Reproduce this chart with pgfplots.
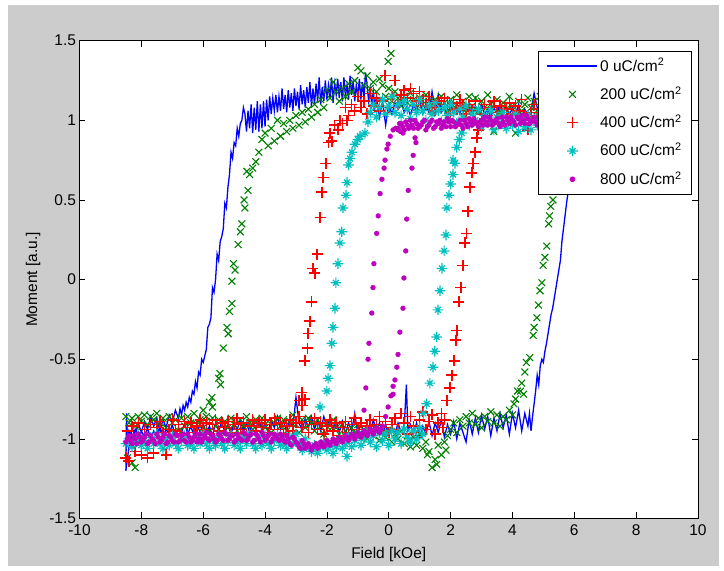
\documentclass[border=0pt]{standalone}
\usepackage{pgfplots}
\pgfplotsset{compat=1.18}
\usepackage{fontspec}
\setmainfont{Liberation Sans}

\definecolor{mblue}{rgb}{0,0,1}
\definecolor{mgreen}{rgb}{0,0.5,0}
\definecolor{mred}{rgb}{1,0,0}
\definecolor{mcyan}{rgb}{0,0.75,0.75}
\definecolor{mmag}{rgb}{0.75,0,0.75}
\definecolor{figgray}{rgb}{0.8,0.8,0.8}

% matlab like marks
\pgfdeclareplotmark{gx}{%
  \pgfpathmoveto{\pgfqpoint{-\pgfplotmarksize}{-\pgfplotmarksize}}%
  \pgfpathlineto{\pgfqpoint{\pgfplotmarksize}{\pgfplotmarksize}}%
  \pgfpathmoveto{\pgfqpoint{-\pgfplotmarksize}{\pgfplotmarksize}}%
  \pgfpathlineto{\pgfqpoint{\pgfplotmarksize}{-\pgfplotmarksize}}%
  \pgfusepathqstroke}
\pgfdeclareplotmark{cstar}{%
  \pgfpathmoveto{\pgfqpoint{-\pgfplotmarksize}{0pt}}%
  \pgfpathlineto{\pgfqpoint{\pgfplotmarksize}{0pt}}%
  \pgfpathmoveto{\pgfqpoint{0pt}{-\pgfplotmarksize}}%
  \pgfpathlineto{\pgfqpoint{0pt}{\pgfplotmarksize}}%
  \pgfpathmoveto{\pgfqpoint{-.55\pgfplotmarksize}{-.55\pgfplotmarksize}}%
  \pgfpathlineto{\pgfqpoint{.55\pgfplotmarksize}{.55\pgfplotmarksize}}%
  \pgfpathmoveto{\pgfqpoint{-.55\pgfplotmarksize}{.55\pgfplotmarksize}}%
  \pgfpathlineto{\pgfqpoint{.55\pgfplotmarksize}{-.55\pgfplotmarksize}}%
  \pgfusepathqstroke}

\begin{document}
\begin{tikzpicture}[font=\fontsize{15.5}{18}\selectfont]
\useasboundingbox[fill=white] (-79.5pt,-52.5pt) rectangle (644.5pt,518.5pt);
\fill[figgray] (-71.5pt,-47.5pt) rectangle (639.5pt,513.5pt);
\begin{axis}[
    at={(0pt,0pt)}, anchor=south west,
    scale only axis,
    width=618.5pt, height=477.8pt,
    xmin=-10, xmax=10,
    ymin=-1.5, ymax=1.5,
    xtick={-10,-8,-6,-4,-2,0,2,4,6,8,10},
    xticklabels={-10,-8,-6,-4,-2,0,2,4,6,8,10},
    ytick={-1.5,-1,-0.5,0,0.5,1,1.5},
    yticklabels={-1.5,-1,-0.5,0,0.5,1,1.5},
    xticklabel style={yshift=-3pt},
    tick align=inside,
    major tick length=6pt,
    axis line style={black, line width=0.8pt},
    tick style={black, line width=0.7pt},
    axis background/.style={fill=white},
    xlabel={Field [kOe]},
    ylabel={Moment [a.u.]},
    every axis x label/.style={at={(axis description cs:0.5,-0.076)}, anchor=center},
    every axis y label/.style={at={(axis description cs:-0.075,0.5)}, rotate=90, anchor=center},
    legend image code/.code={\draw[mark repeat=2,mark phase=2,#1] plot coordinates {(0pt,0pt) (25pt,0pt) (50pt,0pt)};},
    legend cell align=left,
    legend style={at={(axis description cs:1,1)}, anchor=north east,
        xshift=-6pt, yshift=-10pt, draw=black, line width=0.8pt, fill=white,
        inner xsep=8pt, inner ysep=5pt, row sep=8.3pt,
        nodes={inner sep=2pt, text height=13pt, text depth=3pt}},
]

% 0 uC/cm2 : descending branch then ascending branch
\addplot[mblue, line width=1.3pt] coordinates {
(8.5,1.04)(8.4,1.07)(8.3,1.02)(8.2,1.06)(8.1,1.03)(8.0,1.08)(7.9,1.02)(7.8,1.05)(7.7,1.01)(7.6,1.07)
(7.5,1.03)(7.4,1.06)(7.3,1.02)(7.2,1.08)(7.1,1.04)(7.0,1.06)(6.9,1.01)(6.8,1.07)(6.7,1.03)(6.6,1.05)
(6.5,1.02)(6.4,1.08)(6.3,1.03)(6.2,1.06)(6.1,1.02)(6.0,1.07)(5.9,1.04)(5.8,1.09)(5.7,1.03)(5.6,1.06)
(5.5,1.02)(5.4,1.08)(5.3,1.04)(5.2,1.07)(5.1,1.03)(5.0,1.09)(4.9,1.04)(4.8,1.08)(4.7,1.17)(4.6,1.05)
(4.5,1.03)(4.4,1.07)(4.3,1.02)(4.2,1.1)(4.1,1.04)(4.0,1.08)(3.9,1.03)(3.8,1.09)(3.7,1.05)(3.6,1.11)
(3.5,1.04)(3.4,1.08)(3.3,1.02)(3.2,1.07)(3.1,1.04)(3.0,1.1)(2.9,1.05)(2.8,1.09)(2.7,1.03)(2.6,1.08)
(2.5,1.05)(2.4,1.12)(2.3,1.04)(2.2,1.09)(2.1,1.05)(2.0,1.1)(1.9,1.03)(1.8,1.08)(1.7,1.05)(1.6,1.16)
(1.5,1.06)(1.4,1.18)(1.3,1.05)(1.2,1.1)(1.1,1.04)(1.0,1.12)(0.9,1.06)(0.8,1.1)(0.7,1.03)(0.6,1.09)
(0.5,1.05)(0.4,1.13)(0.3,1.07)(0.2,1.11)(0.1,1.04)(0.0,1.1)(-0.1,0.97)(-0.2,1.12)(-0.3,1.02)(-0.4,1.15)
(-0.45,1.08)(-0.5,1.18)(-0.55,1.1)(-0.6,1.2)(-0.65,1.12)(-0.7,1.22)(-0.75,1.3)(-0.8,1.14)(-0.85,1.24)(-0.9,1.13)
(-0.95,1.26)(-1.0,1.15)(-1.05,1.22)(-1.1,1.12)(-1.15,1.25)(-1.2,1.16)(-1.25,1.28)(-1.3,1.13)(-1.35,1.22)(-1.4,1.15)
(-1.45,1.27)(-1.5,1.12)(-1.55,1.24)(-1.6,1.14)(-1.65,1.26)(-1.7,1.16)(-1.75,1.23)(-1.8,1.11)(-1.85,1.27)(-1.9,1.14)
(-1.95,1.22)(-2.0,1.13)(-2.05,1.25)(-2.1,1.12)(-2.15,1.21)(-2.2,1.1)(-2.25,1.27)(-2.3,1.12)(-2.35,1.23)(-2.4,1.1)
(-2.45,1.2)(-2.5,1.09)(-2.55,1.24)(-2.6,1.11)(-2.65,1.21)(-2.7,1.08)(-2.75,1.19)(-2.8,1.1)(-2.85,1.22)(-2.9,1.07)
(-2.95,1.18)(-3.0,1.09)(-3.05,1.2)(-3.1,1.06)(-3.15,1.17)(-3.2,1.08)(-3.25,1.19)(-3.3,1.05)(-3.35,1.16)(-3.4,1.07)
(-3.45,1.2)(-3.5,1.06)(-3.55,1.15)(-3.6,1.05)(-3.65,1.16)(-3.7,1.06)(-3.75,1.14)(-3.8,1.04)(-3.85,1.15)(-3.9,1.0)
(-3.95,1.13)(-4.0,0.96)(-4.05,1.12)(-4.1,0.95)(-4.15,1.1)(-4.2,0.93)(-4.25,1.12)(-4.3,0.94)(-4.35,1.08)(-4.4,0.92)
(-4.45,1.1)(-4.5,0.95)(-4.55,1.06)(-4.6,0.93)(-4.65,1.04)(-4.7,1.08)(-4.75,1.0)
(-4.8,0.98)(-4.85,0.9)(-4.9,0.95)(-4.95,0.84)(-5.0,0.86)(-5.05,0.76)(-5.1,0.8)(-5.15,0.66)(-5.2,0.58)(-5.25,0.45)
(-5.3,0.48)(-5.35,0.32)(-5.4,0.27)(-5.45,0.24)(-5.5,0.12)(-5.55,0.16)(-5.6,0.0)(-5.65,-0.08)(-5.7,-0.05)(-5.75,-0.24)
(-5.8,-0.28)(-5.85,-0.3)(-5.9,-0.44)(-5.95,-0.48)(-6.0,-0.52)(-6.05,-0.5)(-6.1,-0.6)(-6.15,-0.58)(-6.2,-0.68)(-6.25,-0.64)
(-6.3,-0.72)(-6.35,-0.7)(-6.4,-0.77)(-6.45,-0.74)(-6.5,-0.8)(-6.55,-0.77)(-6.6,-0.82)(-6.65,-0.79)(-6.7,-0.85)(-6.75,-0.81)
(-6.8,-0.87)(-6.9,-0.82)(-7.0,-0.9)(-7.1,-0.85)(-7.2,-0.93)(-7.3,-0.88)(-7.4,-0.95)(-7.5,-0.87)(-7.6,-0.92)(-7.7,-0.86)
(-7.8,-0.94)(-7.9,-0.89)(-8.0,-0.96)(-8.1,-0.9)(-8.2,-0.98)(-8.3,-0.93)(-8.4,-1.05)(-8.5,-1.2)
(-8.48,-0.84)(-8.45,-1.02)(-8.4,-0.95)(-8.3,-1.0)(-8.2,-0.94)(-8.1,-1.01)(-8.0,-0.95)(-7.9,-0.99)(-7.8,-0.93)(-7.7,-1.0)
(-7.6,-0.95)(-7.5,-0.98)(-7.4,-0.92)(-7.3,-0.99)(-7.2,-0.94)(-7.1,-0.97)(-7.0,-0.91)(-6.9,-0.98)(-6.8,-0.93)(-6.7,-0.96)
(-6.6,-0.9)(-6.5,-0.97)(-6.4,-0.92)(-6.3,-0.98)(-6.2,-0.91)(-6.1,-0.96)(-6.0,-0.9)(-5.9,-0.97)(-5.8,-0.92)(-5.7,-0.98)
(-5.6,-0.9)(-5.5,-0.95)(-5.4,-0.89)(-5.3,-0.96)(-5.2,-0.91)(-5.1,-0.97)(-5.0,-0.9)(-4.9,-0.94)(-4.8,-0.88)(-4.7,-0.95)
(-4.6,-0.9)(-4.5,-0.96)(-4.4,-0.89)(-4.3,-0.94)(-4.2,-0.87)(-4.1,-0.95)(-4.0,-0.9)(-3.9,-0.96)(-3.8,-0.88)(-3.7,-0.93)
(-3.6,-0.86)(-3.5,-0.94)(-3.4,-0.89)(-3.3,-0.95)(-3.2,-0.87)(-3.1,-0.93)(-3.0,-0.74)(-2.9,-0.9)(-2.8,-0.95)(-2.7,-0.87)
(-2.6,-0.93)(-2.5,-0.86)(-2.4,-0.94)(-2.3,-0.88)(-2.2,-0.95)(-2.1,-0.86)(-2.0,-0.92)(-1.9,-0.87)(-1.8,-0.95)(-1.7,-0.88)
(-1.6,-0.96)(-1.5,-0.89)(-1.4,-0.97)(-1.3,-0.9)(-1.2,-0.95)(-1.1,-0.84)(-1.0,-0.97)(-0.9,-0.9)(-0.8,-0.98)(-0.7,-0.91)
(-0.6,-0.96)(-0.5,-0.88)(-0.4,-0.95)(-0.3,-0.9)(-0.2,-0.97)(-0.1,-0.91)(0.0,-0.98)(0.1,-0.92)(0.2,-0.97)(0.3,-0.9)
(0.4,-0.96)(0.5,-0.92)(0.57,-0.66)(0.62,-0.95)(0.7,-0.91)(0.8,-0.97)(0.9,-0.9)(1.0,-0.99)(1.1,-0.92)(1.2,-0.97)
(1.3,-0.89)(1.4,-0.98)(1.5,-0.9)(1.6,-0.96)(1.7,-0.88)(1.8,-0.99)(1.9,-0.91)(2.0,-0.97)(2.1,-0.89)(2.2,-1.0)
(2.3,-0.9)(2.4,-0.96)(2.5,-1.02)(2.6,-0.88)(2.7,-0.97)(2.8,-0.87)(2.9,-0.96)(3.0,-0.85)(3.1,-0.94)(3.2,-0.86)
(3.3,-0.98)(3.4,-0.87)(3.5,-0.95)(3.6,-0.84)(3.7,-0.93)(3.8,-0.85)(3.9,-0.97)(4.0,-0.84)(4.1,-0.93)(4.2,-0.82)
(4.3,-0.95)(4.4,-0.84)(4.5,-0.92)(4.55,-0.84)(4.6,-0.95)(4.65,-0.86)(4.7,-0.78)(4.75,-0.7)(4.8,-0.6)(4.85,-0.66)
(4.9,-0.54)(4.95,-0.5)(5.0,-0.52)(5.05,-0.45)(5.1,-0.4)(5.15,-0.34)(5.2,-0.28)(5.25,-0.22)(5.3,-0.18)(5.35,-0.12)
(5.4,-0.06)(5.45,0.0)(5.5,0.06)(5.55,0.12)(5.6,0.24)(5.65,0.32)(5.7,0.4)(5.75,0.48)(5.8,0.55)(5.85,0.6)
(5.9,0.7)(6.0,0.82)(6.1,0.92)(6.2,0.98)(6.3,1.02)(6.4,0.99)(6.5,1.05)(6.6,1.01)(6.7,1.06)(6.8,1.02)
(6.9,1.05)(7.0,1.0)(7.1,1.06)(7.2,1.02)(7.3,1.07)(7.4,1.01)(7.5,1.05)(7.6,1.02)(7.7,1.06)(7.8,1.0)
(7.9,1.05)(8.0,1.02)(8.1,1.06)(8.2,1.01)(8.3,1.05)(8.4,1.02)(8.5,1.04)
};

% 200 uC/cm2
\addplot[mgreen, only marks, mark=gx, mark size=3.4pt, line width=1.1pt] coordinates {
(5.35,0.6)(5.4,0.68)(5.5,0.76)(5.6,0.85)(5.7,0.92)(5.8,0.97)(6.0,1.04)(6.15,1.1)(6.3,1.02)(6.45,1.08)
(6.6,1.12)(6.75,1.03)(6.9,1.09)(7.05,1.01)(7.2,1.1)(7.35,1.05)(7.5,1.12)(7.65,1.02)(7.8,1.08)(7.95,1.04)
(8.1,1.1)(8.25,1.03)(8.4,1.07)(8.5,1.0)
(5.9,1.08)(5.8,1.12)(5.7,1.06)(5.6,1.1)(5.5,1.14)(5.4,1.07)(5.3,1.11)(5.2,1.05)(5.1,1.13)(5.0,1.09)
(4.9,1.15)(4.8,1.06)(4.7,1.12)(4.6,1.08)(4.5,1.14)(4.4,1.1)(4.3,1.06)(4.2,1.12)(4.1,0.92)(4.0,1.09)
(3.9,1.15)(3.8,1.07)(3.7,1.11)(3.6,1.05)(3.5,1.13)(3.4,0.93)(3.3,1.1)(3.2,1.16)(3.1,1.08)(3.0,1.12)
(2.9,1.06)(2.8,1.14)(2.7,1.09)(2.6,1.15)(2.5,1.07)(2.4,1.12)(2.3,1.1)(2.2,1.16)(2.1,1.08)(2.0,1.13)
(1.9,1.06)(1.8,1.11)(1.7,1.15)(1.6,1.09)(1.5,1.13)(1.4,1.07)(1.3,1.12)(1.2,1.16)(1.1,1.1)(1.0,1.14)
(0.9,1.08)(0.8,1.13)(0.7,1.17)(0.6,1.11)(0.5,1.15)(0.4,1.09)(0.3,1.14)(0.2,1.18)(0.1,1.12)(0.0,1.2)
(-0.1,1.15)(-0.2,1.22)(-0.3,1.26)(-0.4,1.18)(-0.5,1.24)(0.07,1.42)(-0.02,1.37)
(-0.6,1.2)(-0.7,1.28)(-0.8,1.22)(-0.9,1.31)(-1.0,1.33)(-1.1,1.25)(-1.2,1.18)(-1.3,1.23)(-1.4,1.15)(-1.5,1.2)
(-1.6,1.12)(-1.7,1.18)(-1.8,1.24)(-1.9,1.14)(-2.0,1.19)(-2.1,1.08)(-2.2,1.13)(-2.3,1.05)(-2.4,1.1)(-2.5,1.02)
(-2.6,1.07)(-2.7,0.99)(-2.8,1.05)(-2.9,0.97)(-3.0,1.03)(-3.1,0.95)(-3.2,1.0)(-3.3,0.93)(-3.4,0.98)(-3.5,0.9)
(-3.6,1.0)(-3.7,0.87)(-3.8,0.95)(-3.9,0.84)(-4.0,0.92)(-4.1,0.88)(-4.2,0.8)
(-4.3,0.74)(-4.4,0.7)(-4.5,0.66)(-4.59,0.68)(-4.55,0.56)(-4.65,0.45)(-4.68,0.5)(-4.75,0.35)(-4.8,0.3)(-4.87,0.22)
(-4.97,0.06)(-5.02,0.1)(-5.07,-0.01)(-5.07,-0.15)(-5.15,-0.2)(-5.23,-0.3)(-5.19,-0.34)(-5.35,-0.43)(-5.46,-0.59)(-5.44,-0.66)
(-5.5,-0.62)(-5.72,-0.74)(-5.7,-0.8)(-5.8,-0.77)(-6.0,-0.82)(-5.9,-0.86)
(-8.5,-0.86)(-8.45,-1.12)(-8.4,-0.9)(-8.3,-0.87)(-8.3,-1.15)(-8.2,-1.18)(-8.2,-0.92)(-8.1,-0.86)(-8.0,-0.89)(-7.9,-0.85)
(-7.8,-0.91)(-7.7,-0.86)(-7.6,-0.88)(-7.5,-0.84)(-7.4,-0.9)(-7.3,-0.87)(-7.2,-0.93)(-7.1,-0.86)(-7.0,-0.9)(-6.9,-0.88)
(-6.8,-0.95)(-6.7,-0.87)(-6.6,-0.92)(-6.5,-0.86)(-6.4,-0.9)(-6.3,-0.84)(-6.2,-0.91)(-6.1,-0.88)(-6.0,-0.93)(-5.9,-0.89)
(-5.8,-0.95)(-5.7,-0.87)(-5.6,-0.92)(-5.5,-0.88)(-5.4,-0.96)(-5.3,-0.89)(-5.2,-0.93)(-5.1,-0.87)(-5.0,-0.91)(-4.9,-0.95)
(-4.8,-0.88)(-4.7,-0.92)(-4.6,-0.86)(-4.5,-0.9)(-4.4,-0.94)(-4.3,-0.88)(-4.2,-0.91)(-4.1,-0.87)(-4.0,-0.93)(-3.9,-0.89)
(-3.8,-0.96)(-3.7,-0.9)(-3.6,-0.87)(-3.5,-0.92)(-3.4,-0.88)(-3.3,-0.95)(-3.2,-0.89)(-3.1,-0.85)(-3.0,-0.91)(-2.9,-0.96)
(-2.8,-0.88)(-2.7,-0.93)(-2.6,-0.87)(-2.5,-0.9)(-2.4,-0.95)(-2.3,-0.88)(-2.2,-0.92)(-2.1,-0.97)(-2.0,-0.9)(-1.9,-0.94)
(-1.8,-0.88)(-1.7,-0.93)(-1.6,-0.97)(-1.5,-0.91)(-1.4,-0.95)(-1.3,-0.99)(-1.2,-0.93)(-1.1,-0.96)(-1.0,-0.91)(-0.9,-0.98)
(-0.8,-0.94)(-0.7,-1.0)(-0.6,-0.95)(-0.5,-0.98)(-0.4,-0.93)(-0.3,-1.01)(-0.2,-0.96)(-0.1,-0.99)(0.0,-0.94)(0.1,-1.02)
(0.2,-0.97)(0.3,-1.0)(0.4,-0.95)(0.5,-1.03)(0.6,-0.98)(0.7,-1.05)(0.8,-0.99)(0.9,-1.04)(1.0,-0.97)(1.1,-1.06)
(1.2,-1.02)(1.25,-1.1)(1.3,-1.08)(1.4,-1.18)(1.5,-1.13)(1.55,-1.16)(1.6,-1.04)(1.7,-1.1)(1.8,-1.02)(1.85,-1.07)
(1.9,-0.98)(2.0,-0.94)(2.1,-0.9)(2.2,-0.96)(2.3,-0.88)(2.4,-0.92)(2.5,-0.86)(2.6,-0.9)(2.7,-0.84)(2.8,-0.91)
(2.9,-0.87)(3.0,-0.93)(3.1,-0.86)(3.2,-0.89)(3.3,-0.83)(3.4,-0.9)(3.5,-0.85)(3.6,-0.92)(3.7,-0.86)(3.8,-0.88)
(3.9,-0.82)(4.0,-0.85)(4.05,-0.78)(4.1,-0.75)
(4.16,-0.7)(4.26,-0.7)(4.36,-0.72)(4.4,-0.58)(4.56,-0.49)(4.67,-0.35)(4.79,-0.24)(4.84,-0.16)(4.89,-0.07)(4.95,-0.02)
(4.99,0.09)(5.05,0.14)(5.11,0.21)(5.17,0.35)(5.24,0.46)(5.31,0.5)(5.2,0.4)(4.7,-0.3)(4.45,-0.52)(4.3,-0.65)
};

% 400 uC/cm2
\addplot[mred, only marks, mark=+, mark size=5.5pt, line width=1.5pt] coordinates {
(2.95,0.98)(3.0,1.04)(3.1,1.1)(3.2,1.03)(3.3,1.08)(3.4,1.12)(3.5,1.05)(3.6,1.09)(3.7,1.02)(3.8,1.07)
(3.9,1.11)(4.0,1.04)(4.1,1.09)(4.2,1.06)(4.3,1.13)(4.4,1.03)(4.5,0.94)(4.6,1.05)(4.7,1.1)(4.8,1.02)
(4.9,1.07)(5.0,1.11)(5.2,1.04)(5.4,1.09)(5.6,1.03)(5.8,1.08)(6.0,1.05)(6.2,1.1)(6.4,1.02)(6.6,1.07)
(6.8,1.04)(7.0,1.09)(7.2,1.03)(7.4,1.08)(7.6,1.05)(7.8,1.1)(8.0,1.03)(8.2,1.07)(8.4,1.04)(8.5,1.08)
(2.8,1.12)(2.7,1.06)(2.6,1.1)(2.5,1.04)(2.4,1.09)(2.3,1.13)(2.2,1.07)(2.1,1.11)(2.0,1.05)(1.9,1.1)
(1.8,1.14)(1.7,1.08)(1.6,1.12)(1.5,1.06)(1.4,1.1)(1.3,1.15)(1.2,1.09)(1.1,1.13)(1.0,1.18)(0.9,1.12)
(0.8,1.17)(0.7,1.2)(0.6,1.14)(0.5,1.19)(0.4,1.16)(0.3,1.1)(0.2,1.25)(0.1,1.15)(0.0,1.08)(-0.12,1.28)
(-0.2,1.12)(-0.3,1.06)(-0.4,1.14)(-0.5,1.09)(-0.6,1.17)(-0.7,1.04)(-0.8,1.12)(-0.9,1.08)(-1.0,1.15)(-1.1,1.06)
(-1.2,1.1)(-1.3,1.03)(-1.4,1.08)(-1.5,0.98)
(-1.35,1.0)(-1.58,1.0)(-1.64,0.94)(-1.75,0.97)(-1.84,0.87)(-1.9,0.92)(-1.95,0.86)(-2.03,0.73)(-2.12,0.64)(-2.16,0.55)
(-2.22,0.39)(-2.32,0.16)(-2.39,0.04)(-2.45,0.07)(-2.49,-0.14)(-2.55,-0.26)(-2.61,-0.34)(-2.62,-0.43)(-2.71,-0.51)(-2.81,-0.71)
(-2.71,-0.75)(-2.8,-0.79)(-2.9,-0.76)
(-8.5,-1.12)(-8.45,-0.95)(-8.4,-1.14)(-8.3,-0.92)(-8.2,-1.08)(-8.1,-0.9)(-8.0,-1.1)(-7.9,-0.94)(-7.8,-1.12)(-7.7,-0.91)
(-7.6,-1.09)(-7.5,-0.93)(-7.4,-0.89)(-7.3,-0.96)(-7.2,-1.1)(-7.1,-0.94)(-7.0,-0.88)(-6.9,-0.95)(-6.8,-0.91)(-6.7,-0.97)
(-6.6,-0.89)(-6.5,-0.93)(-6.4,-0.9)(-6.3,-0.96)(-6.2,-0.92)(-6.1,-0.88)(-6.0,-0.94)(-5.9,-0.9)(-5.8,-0.97)(-5.7,-0.91)
(-5.6,-0.88)(-5.5,-0.95)(-5.4,-0.9)(-5.3,-0.93)(-5.2,-0.89)(-5.1,-0.96)(-5.0,-0.91)(-4.9,-0.87)(-4.8,-0.94)(-4.7,-0.9)
(-4.6,-0.97)(-4.5,-0.92)(-4.4,-0.88)(-4.3,-0.95)(-4.2,-0.9)(-4.1,-0.93)(-4.0,-0.88)(-3.9,-0.96)(-3.8,-0.91)(-3.7,-0.87)
(-3.6,-0.94)(-3.5,-0.9)(-3.4,-0.97)(-3.3,-0.92)(-3.2,-0.88)(-3.1,-0.95)(-3.0,-0.9)(-2.9,-0.86)(-2.8,-0.93)(-2.7,-0.89)
(-2.6,-0.96)(-2.5,-0.91)(-2.4,-0.87)(-2.3,-0.94)(-2.2,-0.9)(-2.1,-0.97)(-2.0,-0.92)(-1.9,-0.88)(-1.8,-0.95)(-1.7,-0.9)
(-1.6,-0.98)(-1.5,-0.93)(-1.4,-0.89)(-1.3,-0.96)(-1.2,-0.91)(-1.1,-0.87)(-1.0,-0.94)(-0.9,-0.9)(-0.8,-0.97)(-0.7,-0.92)
(-0.6,-0.88)(-0.5,-0.95)(-0.4,-0.91)(-0.3,-0.86)(-0.2,-0.93)(-0.1,-0.89)(0.0,-0.96)(0.1,-0.91)(0.2,-0.87)(0.3,-0.94)
(0.4,-0.84)(0.5,-0.9)(0.6,-0.97)(0.7,-0.86)(0.8,-0.92)(0.9,-0.99)(1.0,-0.88)(1.1,-0.83)(1.2,-0.94)(1.3,-0.89)
(1.4,-0.85)(1.5,-0.97)(1.6,-0.9)(1.7,-0.84)(1.75,-0.93)(1.8,-0.88)
(1.88,-0.76)(1.98,-0.68)(2.04,-0.6)(2.11,-0.51)(2.17,-0.38)(2.2,-0.32)(2.27,-0.14)(2.33,-0.05)(2.4,0.09)(2.46,0.23)
(2.52,0.29)(2.56,0.43)(2.62,0.58)(2.69,0.67)(2.73,0.73)(2.79,0.8)(2.85,0.89)(2.89,0.94)
};

% 600 uC/cm2
\addplot[mcyan, only marks, mark=cstar, mark size=5.3pt, line width=1.2pt] coordinates {
(-0.6,1.05)(-0.5,1.1)(-0.4,1.02)(-0.3,1.08)(-0.2,1.13)(-0.1,1.04)(0.0,1.09)(0.1,1.15)(0.2,1.05)(0.3,1.1)
(0.4,1.03)(0.5,1.12)(0.6,1.07)(0.7,1.01)(0.8,1.1)(0.9,1.05)(1.0,1.13)(1.1,1.06)(1.2,1.0)(1.3,1.09)
(1.4,1.04)(1.5,1.11)(1.6,1.06)(1.7,0.99)(1.8,1.08)(1.9,1.03)(2.0,1.1)(2.1,1.05)(2.2,0.98)(2.3,1.07)
(2.4,1.02)(2.5,1.09)(2.6,0.97)(2.7,1.04)(2.8,1.0)(2.9,1.07)(3.0,0.96)(3.1,1.03)(3.2,0.99)(3.3,1.06)
(3.4,0.94)(3.5,1.02)(3.6,0.98)(3.7,1.05)(3.8,0.95)(3.9,1.01)(4.0,0.97)(4.1,1.04)(4.2,0.93)(4.3,1.0)
(4.4,0.96)(4.5,1.03)(4.6,0.94)(4.7,1.0)(4.8,0.97)(4.9,1.04)(5.0,0.95)(5.1,1.01)(5.2,0.98)(5.3,1.03)
(5.5,0.97)(5.7,1.02)(5.9,0.96)(6.1,1.01)(6.3,0.98)(6.5,1.03)(6.7,0.97)(6.9,1.0)(7.1,0.96)(7.3,1.02)
(7.5,0.98)(7.7,1.01)(7.9,0.97)(8.1,1.02)(8.3,0.99)(8.5,1.0)
(-0.67,0.99)(-0.77,0.92)(-0.93,0.9)(-1.09,0.85)(-1.19,0.8)(-1.25,0.76)(-1.35,0.61)(-1.38,0.53)(-1.48,0.45)(-1.52,0.3)
(-1.58,0.23)(-1.64,0.1)(-1.71,-0.02)(-1.74,-0.18)(-1.8,-0.3)(-1.84,-0.4)(-1.9,-0.54)(-1.96,-0.62)(-2.0,-0.7)(-2.22,-0.8)
(-1.3,0.72)(-1.0,0.88)
(1.12,-0.84)(1.23,-0.78)(1.33,-0.65)(1.43,-0.55)(1.49,-0.45)(1.55,-0.36)(1.59,-0.19)(1.66,-0.07)(1.72,0.07)(1.79,0.18)
(1.85,0.28)(1.88,0.45)(1.95,0.53)(2.0,0.6)(2.08,0.66)(2.08,0.75)(2.14,0.73)(2.2,0.83)(2.28,0.88)(2.36,0.92)
(-8.5,-1.03)(-8.4,-1.0)(-8.3,-1.05)(-8.2,-1.02)(-8.1,-0.98)(-8.0,-1.04)(-7.9,-1.01)(-7.8,-1.06)(-7.7,-0.99)(-7.6,-1.03)
(-7.5,-0.97)(-7.4,-1.03)(-7.3,-1.06)(-7.2,-1.0)(-7.1,-1.04)(-7.0,-0.98)(-6.9,-1.03)(-6.8,-1.06)(-6.7,-1.01)(-6.6,-0.98)
(-6.5,-1.04)(-6.4,-1.02)(-6.3,-1.06)(-6.2,-0.99)(-6.1,-1.03)(-6.0,-0.97)(-5.9,-1.03)(-5.8,-1.06)(-5.7,-1.0)(-5.6,-1.04)
(-5.5,-0.98)(-5.4,-1.03)(-5.3,-1.06)(-5.2,-1.01)(-5.1,-0.98)(-5.0,-1.04)(-4.9,-1.02)(-4.8,-1.06)(-4.7,-0.99)(-4.6,-1.03)
(-4.5,-0.97)(-4.4,-1.03)(-4.3,-1.06)(-4.2,-1.0)(-4.1,-1.04)(-4.0,-0.98)(-3.9,-1.03)(-3.8,-1.06)(-3.7,-1.01)(-3.6,-0.98)
(-3.5,-1.04)(-3.4,-1.02)(-3.3,-1.06)(-3.2,-0.99)(-3.1,-1.03)(-3.0,-0.97)(-2.9,-1.03)(-2.8,-1.07)(-2.7,-1.0)(-2.6,-1.05)
(-2.5,-1.08)(-2.4,-1.04)(-2.3,-1.09)(-2.2,-1.05)(-2.1,-1.02)(-2.0,-1.07)(-1.9,-1.04)(-1.8,-1.09)(-1.7,-1.05)(-1.6,-1.01)
(-1.5,-1.06)(-1.4,-1.03)(-1.35,-1.11)(-1.3,-0.99)(-1.2,-1.05)(-1.1,-1.01)(-1.0,-0.97)(-0.9,-1.04)(-0.8,-1.0)(-0.7,-0.95)
(-0.6,-1.02)(-0.5,-0.98)(-0.4,-1.05)(-0.3,-0.96)(-0.2,-1.01)(-0.1,-0.97)(0.0,-1.04)(0.1,-0.95)(0.2,-1.0)(0.3,-0.96)
(0.4,-1.03)(0.5,-0.94)(0.6,-0.99)(0.7,-1.02)(0.8,-0.95)(0.9,-1.0)(1.0,-0.93)(1.1,-0.97)
};

% 800 uC/cm2
\addplot[mmag, only marks, mark=*, mark size=2.4pt] coordinates {
(0.3,0.95)(0.4,0.98)(0.5,0.94)(0.6,0.97)(0.7,1.0)(0.8,0.95)(0.9,0.98)(1.0,0.96)(1.1,0.99)(1.2,0.94)
(1.3,0.97)(1.4,1.0)(1.5,0.96)(1.6,0.98)(1.7,0.95)(1.8,0.99)(1.9,1.01)(2.0,0.96)(2.1,0.99)(2.2,0.97)
(2.3,1.0)(2.4,0.95)(2.5,0.98)(2.6,1.01)(2.7,0.97)(2.8,0.99)(2.9,0.96)(3.0,1.0)(3.1,1.02)(3.2,0.97)
(3.3,1.0)(3.4,0.98)(3.5,1.01)(3.6,0.96)(3.7,0.99)(3.8,1.02)(3.9,0.98)(4.0,1.0)(4.1,0.97)(4.2,1.01)
(4.3,1.03)(4.4,0.98)(4.5,1.01)(4.6,0.99)(4.7,1.02)(4.8,0.97)(4.9,1.0)(5.0,1.03)(5.1,0.99)(5.2,1.01)
(5.3,0.98)(5.5,1.02)(5.7,0.99)(5.9,1.03)(6.1,1.0)(6.3,1.02)(6.5,0.99)(6.7,1.03)(6.9,1.0)(7.1,1.02)
(7.3,0.99)(7.5,1.03)(7.7,1.01)(7.9,1.02)(8.1,0.99)(8.3,1.03)(8.5,1.01)
(0.35,0.98)(0.45,0.96)(0.55,0.99)(0.65,0.95)(0.75,0.97)(0.85,1.0)(0.95,0.95)(1.05,0.97)(1.15,1.0)(1.25,0.96)
(1.35,0.99)(1.45,0.95)(1.55,0.99)(1.65,1.0)(1.75,0.97)(1.85,0.96)(1.95,0.99)(2.05,1.0)(2.15,0.96)(2.25,0.98)
(2.35,0.97)(2.45,1.0)(2.55,0.96)(2.65,0.99)(2.75,1.01)(2.85,0.98)(2.95,0.99)(3.05,0.97)(3.15,0.99)(3.25,1.02)
(3.35,0.97)(3.45,1.0)(3.55,0.98)(3.65,1.02)(3.75,0.97)(3.85,1.0)(3.95,1.02)(4.05,0.99)(4.15,1.02)(4.25,0.98)
(4.35,1.0)(4.45,1.03)(4.55,0.98)(4.65,1.0)(4.75,0.99)(4.85,1.02)(4.95,0.98)(5.05,1.01)(5.15,1.02)(5.25,1.0)
(0.46,0.92)(0.3,0.94)(0.14,0.94)(0.05,0.9)(-0.02,0.85)(-0.06,0.82)(-0.12,0.75)(-0.15,0.7)(-0.22,0.63)(-0.28,0.54)
(-0.34,0.4)(-0.39,0.29)(-0.48,0.1)(-0.51,-0.05)(-0.55,-0.21)(-0.64,-0.4)(-0.67,-0.5)(-0.74,-0.68)(-0.8,-0.82)(0.38,0.93)
(0.22,0.95)
(0.85,0.89)(0.88,0.86)(0.79,0.78)(0.75,0.7)(0.63,0.56)(0.58,0.38)(0.55,0.18)(0.49,0.01)(0.46,-0.18)(0.36,-0.33)
(0.3,-0.47)(0.26,-0.55)(0.2,-0.63)(0.14,-0.67)(0.14,-0.72)(0.07,-0.73)(-0.02,-0.8)(-0.1,-0.86)
(-8.5,-1.02)(-8.4,-0.98)(-8.3,-1.03)(-8.2,-1.0)(-8.1,-0.97)(-8.0,-1.02)(-7.9,-0.99)(-7.8,-1.03)(-7.7,-0.98)(-7.6,-1.01)
(-7.5,-0.97)(-7.4,-1.02)(-7.3,-0.99)(-7.2,-1.03)(-7.1,-0.98)(-7.0,-1.01)(-6.9,-0.97)(-6.8,-1.02)(-6.7,-0.98)(-6.6,-1.01)
(-6.5,-0.97)(-6.4,-1.02)(-6.3,-0.99)(-6.2,-1.02)(-6.1,-0.97)(-6.0,-1.0)(-5.9,-0.96)(-5.8,-1.01)(-5.7,-0.98)(-5.6,-1.02)
(-5.5,-0.97)(-5.4,-1.0)(-5.3,-0.96)(-5.2,-1.01)(-5.1,-0.98)(-5.0,-1.02)(-4.9,-0.97)(-4.8,-1.0)(-4.7,-0.96)(-4.6,-1.01)
(-4.5,-0.98)(-4.4,-1.02)(-4.3,-0.97)(-4.2,-1.0)(-4.1,-0.96)(-4.0,-1.01)(-3.9,-0.98)(-3.8,-1.02)(-3.7,-0.97)(-3.6,-1.0)
(-3.5,-0.97)(-3.4,-1.01)(-3.3,-0.98)(-3.2,-1.03)(-3.1,-0.99)(-3.0,-1.02)(-2.9,-1.05)(-2.8,-1.01)(-2.7,-1.06)(-2.6,-1.03)
(-2.5,-1.07)(-2.4,-1.04)(-2.3,-1.06)(-2.2,-1.02)(-2.1,-1.05)(-2.0,-1.01)(-1.9,-1.04)(-1.8,-1.0)(-1.7,-1.03)(-1.6,-0.99)
(-1.5,-1.02)(-1.4,-0.98)(-1.3,-1.01)(-1.2,-0.97)(-1.1,-1.0)(-1.0,-0.96)(-0.9,-0.99)(-0.8,-0.95)(-0.7,-0.98)(-0.6,-0.94)
(-0.5,-0.97)(-0.4,-0.93)(-0.3,-0.96)(-0.2,-0.92)
(-8.45,-1.0)(-8.35,-1.01)(-8.25,-0.98)(-8.15,-1.03)(-8.05,-0.99)(-7.95,-1.01)(-7.85,-0.97)(-7.75,-1.02)(-7.65,-1.0)(-7.55,-1.03)
(-7.45,-0.99)(-7.35,-1.01)(-7.25,-0.97)(-7.15,-1.02)(-7.05,-0.99)(-6.95,-1.02)(-6.85,-0.98)(-6.75,-1.01)(-6.65,-0.97)(-6.55,-1.02)
(-6.45,-0.99)(-6.35,-1.01)(-6.25,-0.97)(-6.15,-1.0)(-6.05,-1.02)(-5.95,-0.98)(-5.85,-1.0)(-5.75,-0.97)(-5.65,-1.0)(-5.55,-1.01)
(-5.45,-0.98)(-5.35,-1.01)(-5.25,-0.97)(-5.15,-1.0)(-5.05,-0.98)(-4.95,-1.01)(-4.85,-0.99)(-4.75,-1.01)(-4.65,-0.97)(-4.55,-1.0)
(-4.45,-0.97)(-4.35,-1.01)(-4.25,-0.98)(-4.15,-1.02)(-4.05,-0.98)(-3.95,-1.0)(-3.85,-0.97)(-3.75,-1.0)(-3.65,-0.98)(-3.55,-1.01)
(-3.45,-0.99)(-3.35,-1.02)(-3.25,-1.0)(-3.15,-1.04)(-3.05,-1.0)(-2.95,-1.03)(-2.85,-1.06)(-2.75,-1.03)(-2.65,-1.05)(-2.55,-1.05)
(-2.45,-1.05)(-2.35,-1.03)(-2.25,-1.05)(-2.15,-1.03)(-2.05,-1.04)(-1.95,-1.02)(-1.85,-1.02)(-1.75,-1.01)(-1.65,-1.01)(-1.55,-1.0)
(-1.45,-1.0)(-1.35,-0.99)(-1.25,-0.99)(-1.15,-0.98)(-1.05,-0.98)(-0.95,-0.97)(-0.85,-0.97)(-0.75,-0.96)(-0.65,-0.96)(-0.55,-0.95)
(-0.45,-0.95)(-0.35,-0.94)(-0.25,-0.94)
};

\legend{0 uC/cm\textsuperscript{2}, 200 uC/cm\textsuperscript{2}, 400 uC/cm\textsuperscript{2}, 600 uC/cm\textsuperscript{2}, 800 uC/cm\textsuperscript{2}}
\end{axis}
\end{tikzpicture}
\end{document}
